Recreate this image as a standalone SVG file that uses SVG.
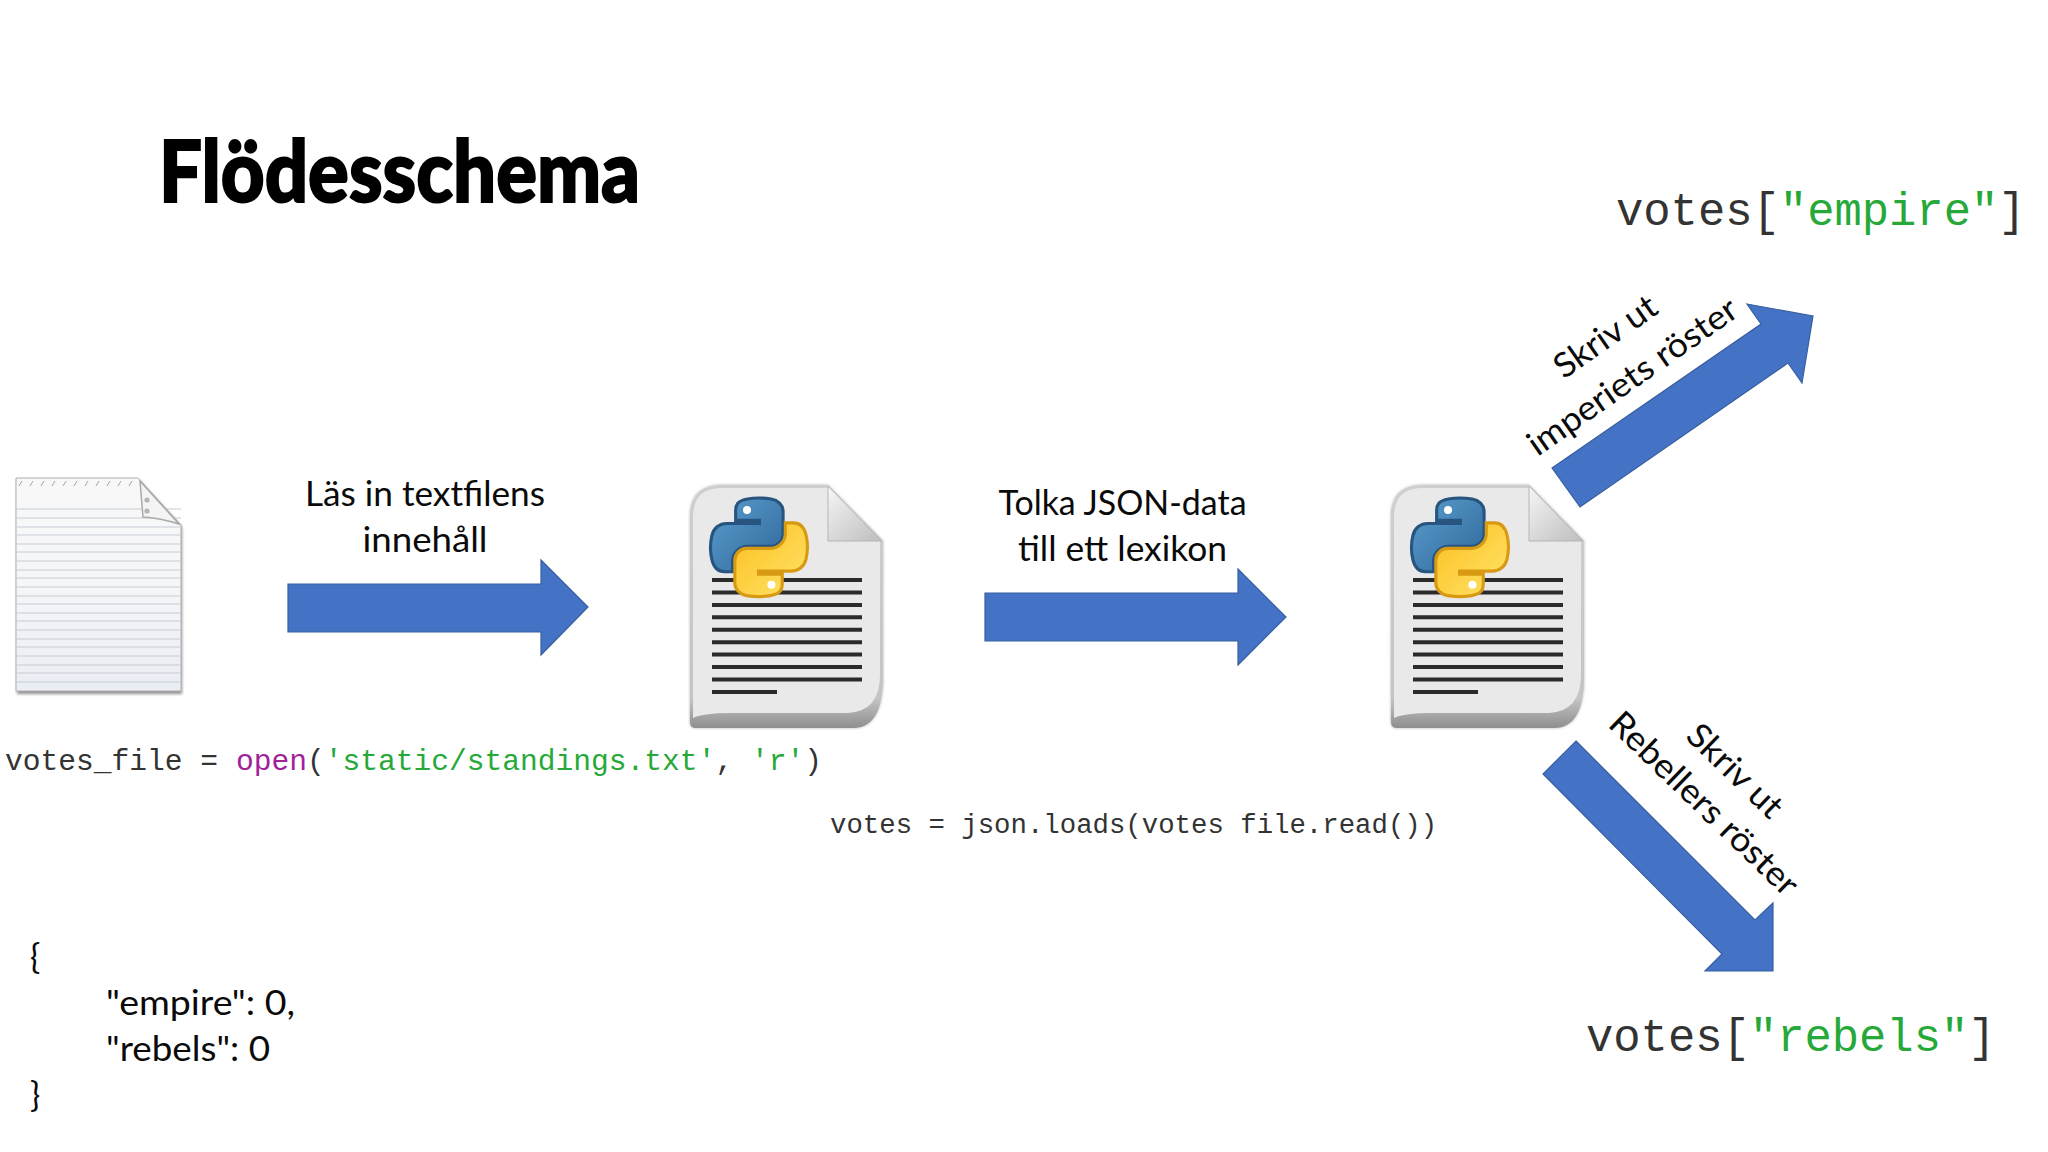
<svg xmlns="http://www.w3.org/2000/svg" xmlns:xlink="http://www.w3.org/1999/xlink" width="2048" height="1152" viewBox="0 0 2048 1152">
<style>
.lbl{font-family:"Lato","Carlito","Liberation Sans",sans-serif;font-size:34px;fill:#0a0a0a}
.mono{font-family:"Liberation Mono","Courier New",monospace;fill:#333}
.g{fill:#26a938}.p{fill:#a0229a}
.arrow{fill:#4472c4;stroke:#375f9f;stroke-width:1.2}
</style>
<defs>
<filter id="soft" x="-10%" y="-10%" width="120%" height="120%"><feGaussianBlur stdDeviation="1.6"/></filter>
<linearGradient id="bl" x1="0" y1="0" x2="1" y2="1"><stop offset="0" stop-color="#5b9fd0"/><stop offset="1" stop-color="#2f6698"/></linearGradient>
<linearGradient id="yl" x1="0" y1="0" x2="1" y2="1"><stop offset="0" stop-color="#ffe46b"/><stop offset="1" stop-color="#fcbf1e"/></linearGradient>
<linearGradient id="edge" x1="0" y1="0" x2="0" y2="1"><stop offset="0" stop-color="#cfcfcf"/><stop offset=".88" stop-color="#c4c4c4"/><stop offset="1" stop-color="#8e8e8e"/></linearGradient>
<linearGradient id="fold" x1="0" y1="0" x2="1" y2="1"><stop offset="0" stop-color="#f6f6f6"/><stop offset="1" stop-color="#bdbdbd"/></linearGradient>
<linearGradient id="page" x1="0" y1="0" x2="0" y2="1"><stop offset="0" stop-color="#f8f8f8"/><stop offset=".5" stop-color="#f5f6f8"/><stop offset="1" stop-color="#eaedf3"/></linearGradient>
<path id="snake" d="M54.9,0C50.3,0 46,.4 42.1,1.1C30.8,3.1 28.8,7.3 28.8,15V25.2H55.5V28.6H18.7C11,28.6 4.2,33.3 2.1,42.2C-.3,52.4-.4,58.7 2.1,69.3C4,77.2 8.5,82.9 16.3,82.9H25.4V70.7C25.4,61.9 33,54.2 42.1,54.2H68.8C76.2,54.2 82.1,48.1 82.1,40.7V15C82.1,7.8 76,2.3 68.8,1.1C64.2,.4 59.5,0 54.9,0Z"/>
<g id="pydoc">
<path d="M0,243 L0,32 Q0,0 32,0 L138,0 L193,56 L193,192 Q193,243 163,243 L6,243 Q0,243 0,237 Z" fill="#9a9a9a" filter="url(#soft)" opacity=".75"/>
<path d="M0,243 L0,32 Q0,0 32,0 L138,0 L193,56 L193,192 Q193,243 163,243 L6,243 Q0,243 0,237 Z" fill="url(#edge)"/>
<path d="M3,233 L3,32 Q3,3 32,3 L138,3 L190,56 L190,190 Q190,226 158,228 L40,228 Q14,228 3,233 Z" fill="#e9e9e9"/>
<path d="M138,1 L138,56 L192,56 Z" fill="url(#fold)" stroke="#b5b5b5" stroke-width="1"/>
<path d="M22,95h150M22,107.4h150M22,119.9h150M22,132.3h150M22,144.7h150M22,157.2h150M22,169.6h150M22,182h150M22,194.5h150M22,207h65" stroke="#2b2b2b" stroke-width="4" fill="none"/>
<g transform="translate(20,13) scale(.89)">
<use href="#snake" xlink:href="#snake" fill="url(#bl)" stroke="#27557f" stroke-width="3.5"/>
<use href="#snake" xlink:href="#snake" transform="rotate(180 55 55.4)" fill="url(#yl)" stroke="#d79a12" stroke-width="3.5"/>
<circle cx="41.6" cy="13.5" r="4.5" fill="#fff"/><circle cx="69" cy="97.4" r="4.5" fill="#fff"/>
</g>
</g>
</defs>
<rect width="2048" height="1152" fill="#fff"/>
<text id="title" x="159" y="202" font-family="Lato,Carlito,sans-serif" font-weight="900" font-size="86" textLength="481" lengthAdjust="spacingAndGlyphs" fill="#000" stroke="#000" stroke-width="2">Flödesschema</text>

<g id="textfile">
<path d="M16,478 L138,478 L181,525 L181,692 L16,692 Z" fill="#8f8f8f" transform="translate(1,2)" filter="url(#soft)"/>
<path d="M16,478 L138,478 L181,525 L181,691 L16,691 Z" fill="url(#page)" stroke="#b0b0b0" stroke-width="1"/>
<path d="M16,509h165M16,518h165M16,527h165M16,535h165M16,544h165M16,552h165M16,561h165M16,570h165M16,578h165M16,587h165M16,596h165M16,604h165M16,613h165M16,621h165M16,630h165M16,639h165M16,647h165M16,656h165M16,665h165M16,673h165M16,682h165" stroke="#c6ccd4" stroke-width="1" fill="none"/>
<path d="M19,486l3,-5M30,486l3,-5M41,486l3,-5M52,486l3,-5M63,486l3,-5M74,486l3,-5M85,486l3,-5M96,486l3,-5M107,486l3,-5M118,486l3,-5M129,486l3,-5" stroke="#a5a5a5" stroke-width="1" fill="none"/>
<path d="M140,481 L143,517 Q160,518 179,524 Z" fill="#f4f4f4" stroke="#a9a9a9" stroke-width="1.5"/>
<circle cx="147" cy="500" r="2.6" fill="#b5b5b5"/><circle cx="147" cy="511" r="2.6" fill="#b5b5b5"/>
</g>
<g id="pyfile1"><use href="#pydoc" xlink:href="#pydoc" transform="translate(690,485)"/></g>
<g id="pyfile2"><use href="#pydoc" xlink:href="#pydoc" transform="translate(1391,485)"/></g>

<g id="connectors">
<polygon class="arrow" points="288,584 541,584 541,560 588,607 541,655 541,632 288,632"/>
<polygon class="arrow" points="985,593 1238,593 1238,569 1286,617 1238,665 1238,641 985,641"/>
<polygon class="arrow" points="1552,468 1761,324 1747,304 1813,316 1802,383 1788,363 1580,507"/>
<polygon class="arrow" points="1576,741 1755,920 1773,903 1773,971 1705,971 1722,954 1543,774"/>
</g>

<g id="labels">
<text class="lbl" x="425" y="506" text-anchor="middle" textLength="240" lengthAdjust="spacingAndGlyphs">Läs in textfilens</text>
<text class="lbl" x="425" y="552" text-anchor="middle" textLength="125" lengthAdjust="spacingAndGlyphs">innehåll</text>
<text class="lbl" x="1122.500" y="515" text-anchor="middle" textLength="248" lengthAdjust="spacingAndGlyphs">Tolka JSON-data</text>
<text class="lbl" x="1122.500" y="561" text-anchor="middle" textLength="209" lengthAdjust="spacingAndGlyphs">till ett lexikon</text>
<text class="lbl" transform="translate(1612,346) rotate(-35)" text-anchor="middle" textLength="118" lengthAdjust="spacingAndGlyphs">Skriv ut</text>
<text class="lbl" transform="translate(1639,386) rotate(-35)" text-anchor="middle" textLength="248" lengthAdjust="spacingAndGlyphs">imperiets röster</text>
<text class="lbl" transform="translate(1727,779) rotate(44)" text-anchor="middle" textLength="119" lengthAdjust="spacingAndGlyphs">Skriv ut</text>
<text class="lbl" transform="translate(1696,812) rotate(44)" text-anchor="middle" textLength="248" lengthAdjust="spacingAndGlyphs">Rebellers röster</text>
<text class="lbl" x="30" y="969">{</text>
<text class="lbl" x="106" y="1015" textLength="189" lengthAdjust="spacingAndGlyphs">"empire": 0,</text>
<text class="lbl" x="106" y="1061" textLength="164" lengthAdjust="spacingAndGlyphs">"rebels": 0</text>
<text class="lbl" x="30" y="1107">}</text>
</g>

<g id="code">
<text class="mono" x="5" y="770" font-size="29.6">votes_file = <tspan class="p">open</tspan>(<tspan class="g">'static/standings.txt'</tspan>, <tspan class="g">'r'</tspan>)</text>
<text class="mono" x="830" y="833" font-size="27.35">votes = json.loads(votes file.read())</text>
<text class="mono" x="1616" y="225" font-size="45.5">votes[<tspan class="g">"empire"</tspan>]</text>
<text class="mono" x="1586" y="1051" font-size="45.5">votes[<tspan class="g">"rebels"</tspan>]</text>
</g>
</svg>
